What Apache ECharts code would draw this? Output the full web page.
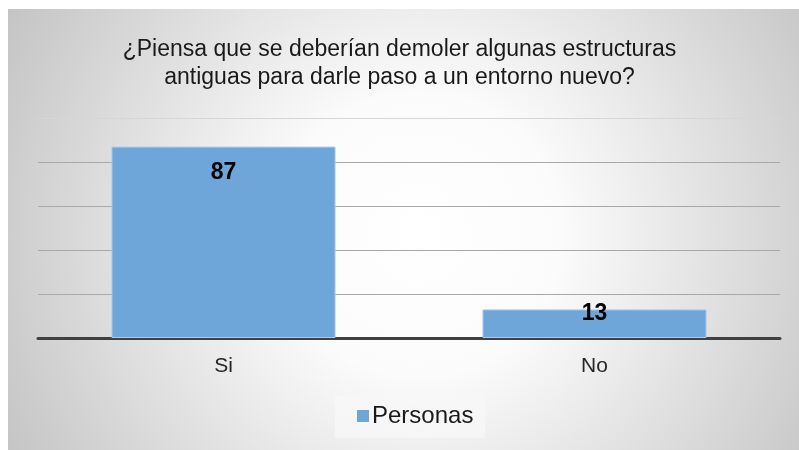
<!DOCTYPE html>
<html>
<head>
<meta charset="utf-8">
<script src="https://cdn.jsdelivr.net/npm/echarts@6/dist/echarts.min.js"></script>
<style>
  html, body { margin: 0; padding: 0; background: #ffffff; }
  #chart { width: 799px; height: 450px; }
</style>
</head>
<body>
<div id="chart"></div>
<script>
// Survey answers
const categories = ['Si', 'No'];
const personas = [87, 13];
const seriesName = 'Personas';
const titleText = '¿Piensa que se deberían demoler algunas estructuras\nantiguas para darle paso a un entorno nuevo?';
const yMin = 0;
const yMax = 100;
const yStep = 20;

const barColor = '#6fa6da';
// label distance below bar top for each bar (short bar keeps its label near the top edge)
const labelDistances = [15, -7];

const chart = echarts.init(document.getElementById('chart'));

chart.setOption({
  backgroundColor: '#ffffff',
  animation: false,
  graphic: [{
    type: 'rect',
    z: -10,
    silent: true,
    shape: { x: 8, y: 9, width: 791, height: 441 },
    style: {
      fill: {
        type: 'radial',
        x: 420, y: 235, r: 470,
        global: true,
        colorStops: [
          { offset: 0, color: '#ffffff' },
          { offset: 0.3, color: '#fbfbfb' },
          { offset: 1, color: '#c4c4c4' }
        ]
      }
    }
  }, {
    type: 'rect',
    z: -5,
    silent: true,
    shape: { x: 335, y: 396, width: 150, height: 42 },
    style: { fill: 'rgba(248,248,248,0.7)' }
  }],
  title: {
    text: titleText,
    left: 'center',
    top: 31,
    textStyle: {
      fontFamily: 'Liberation Sans, Arial, sans-serif',
      fontSize: 23,
      fontWeight: 'normal',
      color: '#1a1a1a',
      lineHeight: 28
    }
  },
  legend: {
    data: [seriesName],
    bottom: 17,
    left: 352,
    icon: 'rect',
    itemWidth: 12,
    itemHeight: 12,
    itemGap: 4,
    itemStyle: { borderWidth: 0 },
    textStyle: {
      fontFamily: 'Liberation Sans, Arial, sans-serif',
      fontSize: 24,
      color: '#1a1a1a',
      padding: [0, 0, 0, -2]
    }
  },
  grid: {
    left: 38,
    right: 19,
    top: 118,
    bottom: 112,
    containLabel: false
  },
  xAxis: {
    type: 'category',
    data: categories,
    axisLine: { show: true, lineStyle: { color: '#404040', width: 3 } },
    axisTick: { show: false },
    axisLabel: {
      fontFamily: 'Liberation Sans, Arial, sans-serif',
      fontSize: 21,
      color: '#262626',
      margin: 18
    }
  },
  yAxis: {
    type: 'value',
    min: yMin,
    max: yMax,
    interval: yStep,
    axisLabel: { show: false },
    axisLine: { show: false },
    axisTick: { show: false },
    splitLine: {
      lineStyle: {
        color: ['#a8a8a8', '#a8a8a8', '#a8a8a8', '#a8a8a8', '#a8a8a8', '#d6d6d6'],
        width: 1
      }
    }
  },
  series: [{
    name: seriesName,
    type: 'bar',
    barWidth: '60.4%',
    itemStyle: {
      color: barColor,
      borderColor: '#a9cbec',
      borderWidth: 1
    },
    data: personas.map((v, i) => ({
      value: v,
      label: { distance: labelDistances[i] }
    })),
    label: {
      show: true,
      position: 'insideTop',
      fontFamily: 'Liberation Sans, Arial, sans-serif',
      fontSize: 23,
      fontWeight: 'bold',
      color: '#000000'
    }
  }]
});
</script>
</body>
</html>
